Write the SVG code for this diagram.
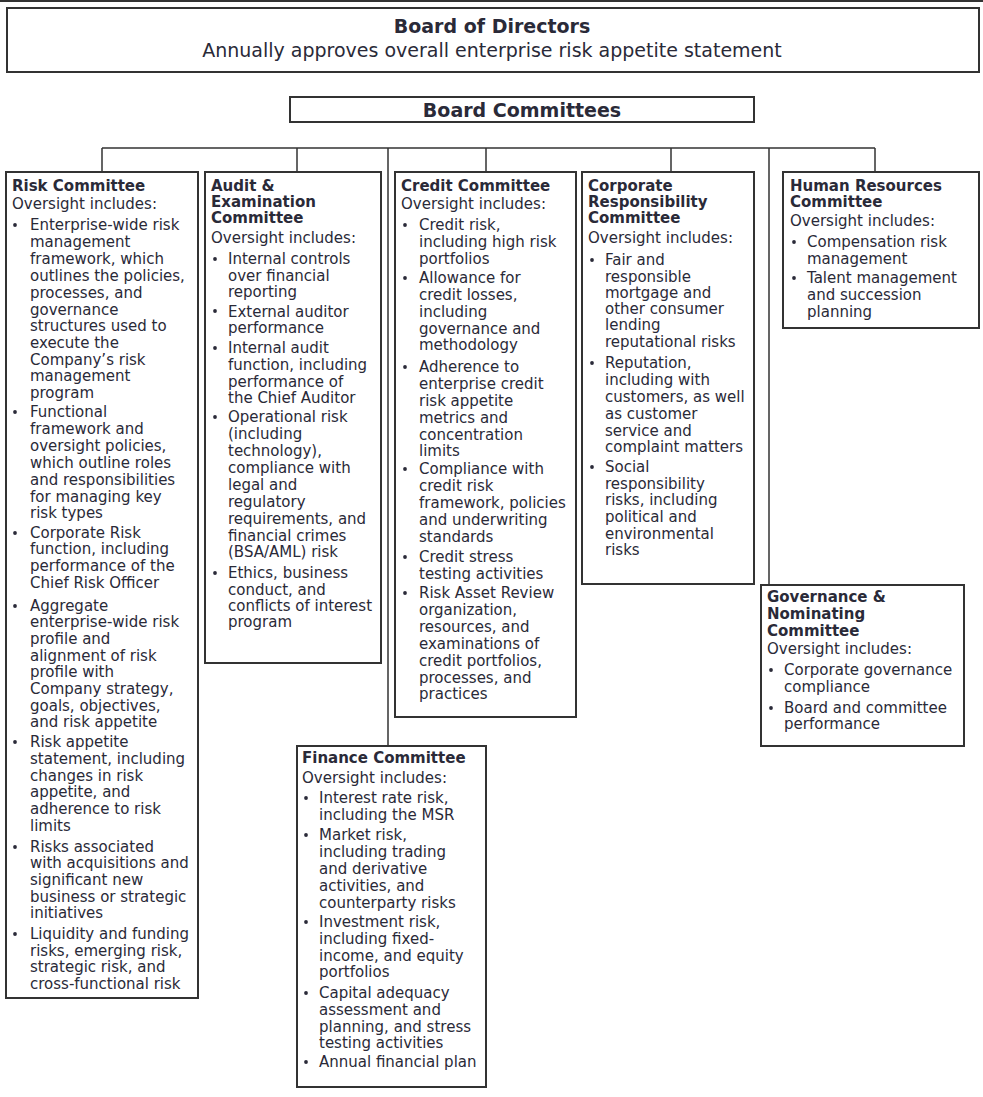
<svg xmlns="http://www.w3.org/2000/svg" width="983" height="1097" viewBox="0 0 983 1097">
<style>
.box{fill:#fff;stroke:#333;stroke-width:2}
.ln{stroke:#333;stroke-width:1.5;fill:none}
text{font-family:"DejaVu Sans",Verdana,sans-serif;font-size:15px;fill:#2a2a38}
.h{font-weight:bold}
.big{font-size:19px}
.b{fill:#2a2a38}
</style>
<rect x="0" y="0" width="983" height="1097" fill="#fff"/>
<rect x="0" y="0" width="983" height="2" fill="#333"/>
<g id="board">
<rect class="box" x="7" y="8" width="972" height="64"/>
<text class="h big" x="492" y="33" text-anchor="middle">Board of Directors</text>
<text class="big" x="492" y="57" text-anchor="middle">Annually approves overall enterprise risk appetite statement</text>
</g>
<g id="committees">
<rect class="box" x="290" y="97" width="464" height="25"/>
<text class="h big" x="522" y="117" text-anchor="middle">Board Committees</text>
</g>
<g id="connectors">
<path class="ln" d="M102 148 H875 M102 148 V172 M297 148 V172 M388 148 V746 M486 148 V172 M671 148 V172 M769 148 V585 M875 148 V172"/>
</g>
<g id="risk">
<rect class="box" x="6" y="172" width="192" height="826"/>
<text class="h" x="12" y="191">Risk Committee</text>
<text x="12" y="209">Oversight includes:</text>
<g class="b"><circle cx="15" cy="225" r="1.9"/><circle cx="15" cy="412" r="1.9"/><circle cx="15" cy="533" r="1.9"/><circle cx="15" cy="606" r="1.9"/><circle cx="15" cy="742" r="1.9"/><circle cx="15" cy="847" r="1.9"/><circle cx="15" cy="934" r="1.9"/></g>
<text x="30" y="230">Enterprise-wide risk</text>
<text x="30" y="247">management</text>
<text x="30" y="264">framework, which</text>
<text x="30" y="281">outlines the policies,</text>
<text x="30" y="298">processes, and</text>
<text x="30" y="315">governance</text>
<text x="30" y="331">structures used to</text>
<text x="30" y="348">execute the</text>
<text x="30" y="365">Company’s risk</text>
<text x="30" y="381">management</text>
<text x="30" y="398">program</text>
<text x="30" y="417">Functional</text>
<text x="30" y="434">framework and</text>
<text x="30" y="451">oversight policies,</text>
<text x="30" y="468">which outline roles</text>
<text x="30" y="485">and responsibilities</text>
<text x="30" y="502">for managing key</text>
<text x="30" y="518">risk types</text>
<text x="30" y="538">Corporate Risk</text>
<text x="30" y="554">function, including</text>
<text x="30" y="571">performance of the</text>
<text x="30" y="588">Chief Risk Officer</text>
<text x="30" y="611">Aggregate</text>
<text x="30" y="627">enterprise-wide risk</text>
<text x="30" y="644">profile and</text>
<text x="30" y="661">alignment of risk</text>
<text x="30" y="677">profile with</text>
<text x="30" y="694">Company strategy,</text>
<text x="30" y="711">goals, objectives,</text>
<text x="30" y="727">and risk appetite</text>
<text x="30" y="747">Risk appetite</text>
<text x="30" y="764">statement, including</text>
<text x="30" y="781">changes in risk</text>
<text x="30" y="797">appetite, and</text>
<text x="30" y="814">adherence to risk</text>
<text x="30" y="831">limits</text>
<text x="30" y="852">Risks associated</text>
<text x="30" y="868">with acquisitions and</text>
<text x="30" y="885">significant new</text>
<text x="30" y="902">business or strategic</text>
<text x="30" y="918">initiatives</text>
<text x="30" y="939">Liquidity and funding</text>
<text x="30" y="956">risks, emerging risk,</text>
<text x="30" y="972">strategic risk, and</text>
<text x="30" y="989">cross-functional risk</text>
</g>
<g id="audit">
<rect class="box" x="205" y="172" width="176" height="491"/>
<text class="h" x="211" y="191">Audit &amp;</text>
<text class="h" x="211" y="207">Examination</text>
<text class="h" x="211" y="223">Committee</text>
<text x="211" y="243">Oversight includes:</text>
<g class="b"><circle cx="215" cy="259" r="1.9"/><circle cx="215" cy="311" r="1.9"/><circle cx="215" cy="348" r="1.9"/><circle cx="215" cy="417" r="1.9"/><circle cx="215" cy="573" r="1.9"/></g>
<text x="228" y="264">Internal controls</text>
<text x="228" y="281">over financial</text>
<text x="228" y="297">reporting</text>
<text x="228" y="317">External auditor</text>
<text x="228" y="333">performance</text>
<text x="228" y="353">Internal audit</text>
<text x="228" y="370">function, including</text>
<text x="228" y="387">performance of</text>
<text x="228" y="403">the Chief Auditor</text>
<text x="228" y="422">Operational risk</text>
<text x="228" y="439">(including</text>
<text x="228" y="456">technology),</text>
<text x="228" y="473">compliance with</text>
<text x="228" y="490">legal and</text>
<text x="228" y="507">regulatory</text>
<text x="228" y="524">requirements, and</text>
<text x="228" y="541">financial crimes</text>
<text x="228" y="557">(BSA/AML) risk</text>
<text x="228" y="578">Ethics, business</text>
<text x="228" y="595">conduct, and</text>
<text x="228" y="611">conflicts of interest</text>
<text x="228" y="627">program</text>
</g>
<g id="credit">
<rect class="box" x="395" y="172" width="181" height="545"/>
<text class="h" x="401" y="191">Credit Committee</text>
<text x="401" y="209">Oversight includes:</text>
<g class="b"><circle cx="405" cy="225" r="1.9"/><circle cx="405" cy="278" r="1.9"/><circle cx="405" cy="367" r="1.9"/><circle cx="405" cy="469" r="1.9"/><circle cx="405" cy="557" r="1.9"/><circle cx="405" cy="593" r="1.9"/></g>
<text x="419" y="230">Credit risk,</text>
<text x="419" y="247">including high risk</text>
<text x="419" y="264">portfolios</text>
<text x="419" y="283">Allowance for</text>
<text x="419" y="300">credit losses,</text>
<text x="419" y="317">including</text>
<text x="419" y="334">governance and</text>
<text x="419" y="350">methodology</text>
<text x="419" y="372">Adherence to</text>
<text x="419" y="389">enterprise credit</text>
<text x="419" y="406">risk appetite</text>
<text x="419" y="423">metrics and</text>
<text x="419" y="440">concentration</text>
<text x="419" y="456">limits</text>
<text x="419" y="474">Compliance with</text>
<text x="419" y="491">credit risk</text>
<text x="419" y="508">framework, policies</text>
<text x="419" y="525">and underwriting</text>
<text x="419" y="542">standards</text>
<text x="419" y="562">Credit stress</text>
<text x="419" y="579">testing activities</text>
<text x="419" y="598">Risk Asset Review</text>
<text x="419" y="615">organization,</text>
<text x="419" y="632">resources, and</text>
<text x="419" y="649">examinations of</text>
<text x="419" y="666">credit portfolios,</text>
<text x="419" y="683">processes, and</text>
<text x="419" y="699">practices</text>
</g>
<g id="corporate">
<rect class="box" x="582" y="172" width="172" height="412"/>
<text class="h" x="588" y="191">Corporate</text>
<text class="h" x="588" y="207">Responsibility</text>
<text class="h" x="588" y="223">Committee</text>
<text x="588" y="243">Oversight includes:</text>
<g class="b"><circle cx="592" cy="260" r="1.9"/><circle cx="592" cy="363" r="1.9"/><circle cx="592" cy="467" r="1.9"/></g>
<text x="605" y="265">Fair and</text>
<text x="605" y="282">responsible</text>
<text x="605" y="298">mortgage and</text>
<text x="605" y="314">other consumer</text>
<text x="605" y="330">lending</text>
<text x="605" y="347">reputational risks</text>
<text x="605" y="368">Reputation,</text>
<text x="605" y="385">including with</text>
<text x="605" y="402">customers, as well</text>
<text x="605" y="419">as customer</text>
<text x="605" y="436">service and</text>
<text x="605" y="452">complaint matters</text>
<text x="605" y="472">Social</text>
<text x="605" y="489">responsibility</text>
<text x="605" y="505">risks, including</text>
<text x="605" y="522">political and</text>
<text x="605" y="539">environmental</text>
<text x="605" y="555">risks</text>
</g>
<g id="hr">
<rect class="box" x="783" y="172" width="196" height="156"/>
<text class="h" x="790" y="191">Human Resources</text>
<text class="h" x="790" y="207">Committee</text>
<text x="790" y="226">Oversight includes:</text>
<g class="b"><circle cx="794" cy="242" r="1.9"/><circle cx="794" cy="278" r="1.9"/></g>
<text x="807" y="247">Compensation risk</text>
<text x="807" y="264">management</text>
<text x="807" y="283">Talent management</text>
<text x="807" y="300">and succession</text>
<text x="807" y="317">planning</text>
</g>
<g id="governance">
<rect class="box" x="761" y="585" width="203" height="161"/>
<text class="h" x="767" y="602">Governance &amp;</text>
<text class="h" x="767" y="619">Nominating</text>
<text class="h" x="767" y="636">Committee</text>
<text x="767" y="654">Oversight includes:</text>
<g class="b"><circle cx="771" cy="670" r="1.9"/><circle cx="771" cy="708" r="1.9"/></g>
<text x="784" y="675">Corporate governance</text>
<text x="784" y="692">compliance</text>
<text x="784" y="713">Board and committee</text>
<text x="784" y="729">performance</text>
</g>
<g id="finance">
<rect class="box" x="297" y="746" width="189" height="341"/>
<text class="h" x="302" y="763">Finance Committee</text>
<text x="302" y="783">Oversight includes:</text>
<g class="b"><circle cx="306" cy="798" r="1.9"/><circle cx="306" cy="835" r="1.9"/><circle cx="306" cy="922" r="1.9"/><circle cx="306" cy="993" r="1.9"/><circle cx="306" cy="1062" r="1.9"/></g>
<text x="319" y="803">Interest rate risk,</text>
<text x="319" y="820">including the MSR</text>
<text x="319" y="840">Market risk,</text>
<text x="319" y="857">including trading</text>
<text x="319" y="874">and derivative</text>
<text x="319" y="891">activities, and</text>
<text x="319" y="908">counterparty risks</text>
<text x="319" y="927">Investment risk,</text>
<text x="319" y="944">including fixed-</text>
<text x="319" y="961">income, and equity</text>
<text x="319" y="977">portfolios</text>
<text x="319" y="998">Capital adequacy</text>
<text x="319" y="1015">assessment and</text>
<text x="319" y="1032">planning, and stress</text>
<text x="319" y="1048">testing activities</text>
<text x="319" y="1067">Annual financial plan</text>
</g>
</svg>
